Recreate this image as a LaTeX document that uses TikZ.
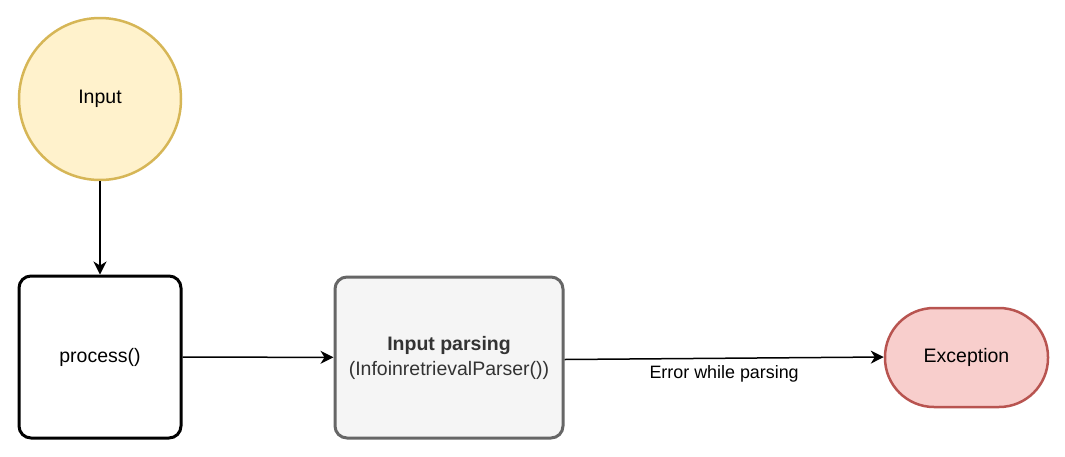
\documentclass[tikz,border=0pt]{standalone}
\usepackage{fontspec}
\setmainfont{Liberation Sans}
\usetikzlibrary{arrows.meta}
\definecolor{inFill}{HTML}{FFF2CC}
\definecolor{inLine}{HTML}{D6B656}
\definecolor{exFill}{HTML}{F8CECC}
\definecolor{exLine}{HTML}{B85450}
\definecolor{paFill}{HTML}{F5F5F5}
\definecolor{paLine}{HTML}{666666}
\definecolor{paText}{HTML}{333333}
\tikzset{
  base/.style={font=\fontsize{19.5}{23}\selectfont, align=center, inner sep=0pt},
  startnode/.style={base, circle, draw=inLine, fill=inFill, line width=2.5pt, minimum size=162pt},
  procbox/.style={base, rectangle, rounded corners=12pt, draw=black, line width=3pt, minimum width=162pt, minimum height=162pt},
  parsebox/.style={base, rectangle, rounded corners=12pt, draw=paLine, fill=paFill, text=paText, line width=3pt, minimum width=228pt, minimum height=161pt},
  excnode/.style={base, rectangle, rounded corners=49pt, draw=exLine, fill=exFill, line width=2.5pt, minimum width=163pt, minimum height=99pt},
  conn/.style={line width=1.5pt, -{Stealth[length=13pt,width=13pt,inset=4pt]}},
  elabel/.style={font=\fontsize{17.9}{21}\selectfont, inner sep=0pt}
}
\begin{document}
\begin{tikzpicture}[x=1pt,y=-1pt]
\useasboundingbox (0,0) rectangle (1065,456);
\node[startnode] (in) at (100,99) {Input};
\node[procbox] (proc) at (100,357) {process()};
\node[parsebox] (parse) at (449,357.5) {\textbf{Input parsing}\\[2pt](InfoinretrievalParser())};
\node[excnode] (exc) at (966.5,357.5) {Exception};
\draw[conn] (in) -- (proc);
\draw[conn] (proc) -- (parse);
\draw[conn] ([yshift=-2pt]parse.east) -- node[elabel, pos=0.5, yshift=-16pt] (errlbl) {Error while parsing} ([yshift=0.5pt]exc.west);
\end{tikzpicture}
\end{document}
